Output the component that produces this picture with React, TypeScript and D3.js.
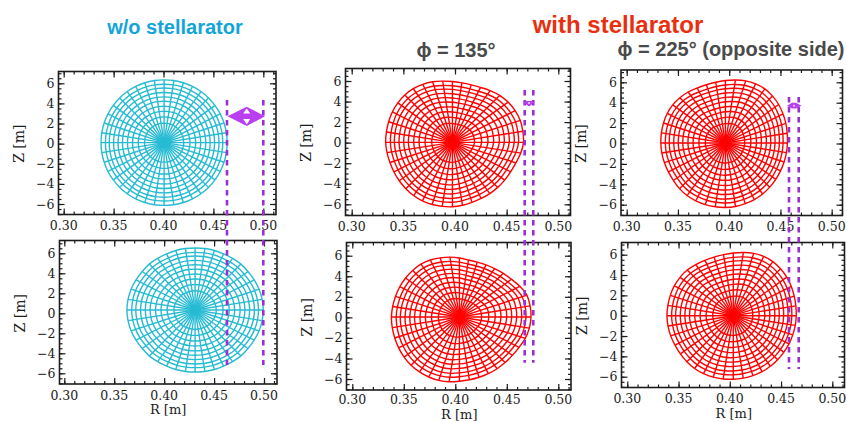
import React, { useEffect, useRef } from 'react';
import * as d3 from 'd3';

const xTicks = [0.3, 0.35, 0.4, 0.45, 0.5];
const xMinorTicks = d3.range(0.3, 0.5101, 0.01);
const yTicks = [-6, -4, -2, 0, 2, 4, 6];
const yMinorTicks = d3.range(-7, 7.01, 0.5);

// flux surfaces as a fraction of the boundary
const surfaces = [0.31, 0.41, 0.5, 0.58, 0.66, 0.73, 0.8, 0.87, 0.93, 1];

// boundary minor radius (Z metres) read every 9 degrees round the axis
const radiiA = [
  6.32, 6.32, 6.31, 6.31, 6.3, 6.29, 6.28, 6.27, 6.26, 6.25,
  6.24, 6.25, 6.26, 6.27, 6.28, 6.29, 6.3, 6.31, 6.31, 6.32,
  6.32, 6.32, 6.31, 6.31, 6.3, 6.29, 6.28, 6.27, 6.26, 6.25,
  6.24, 6.25, 6.26, 6.27, 6.28, 6.29, 6.3, 6.31, 6.31, 6.32,
];
const radiiB = [
  6.83, 6.8, 6.74, 6.64, 6.54, 6.49, 6.39, 6.3, 6.26, 6.22,
  6.2, 6.22, 6.26, 6.3, 6.39, 6.49, 6.54, 6.64, 6.74, 6.8,
  6.83, 6.8, 6.74, 6.64, 6.54, 6.49, 6.39, 6.3, 6.26, 6.22,
  6.2, 6.22, 6.26, 6.3, 6.39, 6.49, 6.54, 6.64, 6.74, 6.8,
];
const radiiC = [
  6.88, 6.9, 6.91, 6.81, 6.66, 6.46, 6.22, 6.0, 5.88, 5.86,
  5.92, 6.03, 6.2, 6.34, 6.45, 6.52, 6.53, 6.52, 6.49, 6.47,
  6.46, 6.41, 6.36, 6.35, 6.36, 6.38, 6.4, 6.4, 6.36, 6.31,
  6.27, 6.2, 6.14, 6.13, 6.16, 6.2, 6.25, 6.32, 6.46, 6.7,
];
const radiiD = [
  6.95, 6.95, 6.88, 6.58, 6.25, 6.02, 5.82, 5.7, 5.62, 5.62,
  5.75, 5.9, 6.05, 6.23, 6.36, 6.42, 6.46, 6.5, 6.52, 6.56,
  6.6, 6.6, 6.6, 6.62, 6.64, 6.64, 6.6, 6.55, 6.48, 6.38,
  6.25, 6.18, 6.16, 6.18, 6.22, 6.27, 6.35, 6.5, 6.72, 6.87,
];
const radiiE = [
  6.05, 6.1, 6.2, 6.3, 6.42, 6.5, 6.55, 6.5, 6.4, 6.25,
  6.12, 6.03, 6.0, 6.05, 6.18, 6.28, 6.35, 6.37, 6.35, 6.32,
  6.3, 6.28, 6.25, 6.24, 6.26, 6.33, 6.37, 6.36, 6.35, 6.33,
  6.32, 6.3, 6.25, 6.22, 6.18, 6.12, 6.07, 6.03, 6.02, 6.03,
];
const radiiF = [
  6.14, 6.18, 6.25, 6.35, 6.45, 6.52, 6.57, 6.55, 6.45, 6.3,
  6.17, 6.08, 6.05, 6.1, 6.22, 6.35, 6.42, 6.46, 6.46, 6.46,
  6.47, 6.45, 6.42, 6.38, 6.38, 6.4, 6.42, 6.4, 6.36, 6.3,
  6.25, 6.22, 6.2, 6.18, 6.15, 6.12, 6.1, 6.1, 6.1, 6.12,
];

const CYAN = '#27bbd3';
const RED = '#ff0000';
const PURPLE = '#9d2fd0';
const ARROW = '#b93ff0';
const INK = '#1c1c1c';

// frame is [left, right, top, bottom]; xPx places R=0.30/0.50, yPx places Z=-6/6
const panels = [
  { frame: [58.5, 276, 71.5, 214.5], xPx: [63.7, 263.3], yPx: [204, 83.3], axis: [0.4006, 0.1], radii: radiiA, color: CYAN, xTitle: false },
  { frame: [59.5, 277, 240.5, 384], xPx: [64.3, 264], yPx: [373.3, 253.3], axis: [0.431, 0.33], radii: radiiB, color: CYAN, xTitle: true },
  { frame: [345.5, 570.5, 68.5, 215.5], xPx: [351.7, 558.3], yPx: [204.3, 81], axis: [0.3975, 0.03], radii: radiiC, color: RED, xTitle: false },
  { frame: [346.5, 571, 242.5, 390], xPx: [352.3, 558.3], yPx: [379, 255.7], axis: [0.404, 0.03], radii: radiiD, color: RED, xTitle: true },
  { frame: [621, 842.5, 70, 215.5], xPx: [626.7, 831.7], yPx: [204.7, 82.3], axis: [0.3963, 0.05], radii: radiiE, color: RED, xTitle: false },
  { frame: [621.5, 844.5, 242.5, 387.5], xPx: [627.3, 832.3], yPx: [376.7, 254.7], axis: [0.4034, 0], radii: radiiF, color: RED, xTitle: true },
];

// dashed guide pairs, [px of first, px of second, top, bottom]
const guides = [
  [227, 263.3, 100, 365],
  [524.7, 533.3, 90, 362.7],
  [789, 798.7, 97, 369],
];

const titles = [
  { text: 'w/o stellarator', x: 175, y: 34, size: 20, color: '#12a5d9' },
  { text: 'with stellarator', x: 618, y: 33, size: 24, color: '#e8300f' },
  { text: 'ϕ = 135°', x: 456, y: 57, size: 20, color: '#4a4a4a' },
  { text: 'ϕ = 225° (opposite side)', x: 731, y: 56, size: 20, color: '#4a4a4a' },
];

export default function App() {
  const ref = useRef<SVGSVGElement>(null);

  useEffect(() => {
    const svg = d3.select(ref.current);
    svg.selectAll('*').remove();
    const font = '"DejaVu Serif", serif';

    panels.forEach((p) => {
      const [left, right, top, bottom] = p.frame;
      const x = d3.scaleLinear().domain([0.3, 0.5]).range(p.xPx);
      const y = d3.scaleLinear().domain([-6, 6]).range(p.yPx);
      const g = svg.append('g');

      const point = (r: number, i: number, rho: number): [number, number] => {
        const a = (i * 9 * Math.PI) / 180;
        return [x(p.axis[0] + rho * r * Math.cos(a) * 0.01), y(p.axis[1] + rho * r * Math.sin(a))];
      };

      const line = d3.line().curve(d3.curveCatmullRomClosed);
      g.selectAll('path.surface')
        .data(surfaces)
        .enter()
        .append('path')
        .attr('class', 'surface')
        .attr('d', (rho) => line(p.radii.map((r, i) => point(r, i, rho))))
        .attr('fill', 'none')
        .attr('stroke', p.color)
        .attr('stroke-width', 1.4);

      g.selectAll('line.spoke')
        .data(p.radii)
        .enter()
        .append('line')
        .attr('class', 'spoke')
        .attr('x1', x(p.axis[0]))
        .attr('y1', y(p.axis[1]))
        .attr('x2', (r, i) => point(r, i, 1)[0])
        .attr('y2', (r, i) => point(r, i, 1)[1])
        .attr('stroke', p.color)
        .attr('stroke-width', 1.4);

      // ticks on all four sides, pointing inward
      const xIn = x.copy().domain([x.invert(left), x.invert(right)]).range([left, right]);
      const yIn = y.copy().domain([y.invert(bottom), y.invert(top)]).range([bottom, top]);
      const sides: [any, number][] = [
        [d3.axisBottom(xIn).tickValues(xMinorTicks).tickSize(-3), bottom],
        [d3.axisBottom(xIn).tickValues(xTicks).tickSize(-6), bottom],
        [d3.axisTop(xIn).tickValues(xMinorTicks).tickSize(-3), top],
        [d3.axisTop(xIn).tickValues(xTicks).tickSize(-6), top],
      ];
      sides.forEach(([axis, pos]) => {
        g.append('g')
          .attr('transform', `translate(0,${pos})`)
          .call(axis.tickFormat(() => '').tickSizeOuter(0));
      });
      const ySides: [any, number][] = [
        [d3.axisLeft(yIn).tickValues(yMinorTicks).tickSize(-3), left],
        [d3.axisLeft(yIn).tickValues(yTicks).tickSize(-6), left],
        [d3.axisRight(yIn).tickValues(yMinorTicks).tickSize(-3), right],
        [d3.axisRight(yIn).tickValues(yTicks).tickSize(-6), right],
      ];
      ySides.forEach(([axis, pos]) => {
        g.append('g')
          .attr('transform', `translate(${pos},0)`)
          .call(axis.tickFormat(() => '').tickSizeOuter(0));
      });
      g.selectAll('.domain').remove();
      g.selectAll('.tick line').attr('stroke', INK).attr('stroke-width', 1.2);

      g.append('rect')
        .attr('x', left)
        .attr('y', top)
        .attr('width', right - left)
        .attr('height', bottom - top)
        .attr('fill', 'none')
        .attr('stroke', INK)
        .attr('stroke-width', 1.6);

      g.selectAll('text.xt')
        .data(xTicks)
        .enter()
        .append('text')
        .attr('class', 'xt')
        .attr('x', (d) => x(d))
        .attr('y', Math.min(bottom + 15.5, 404))
        .attr('text-anchor', 'middle')
        .style('font-family', font)
        .style('font-size', '12.5px')
        .attr('fill', INK)
        .text(d3.format('.2f'));

      g.selectAll('text.yt')
        .data(yTicks)
        .enter()
        .append('text')
        .attr('class', 'yt')
        .attr('x', left - 4)
        .attr('y', (d) => y(d) + 4.5)
        .attr('text-anchor', 'end')
        .style('font-family', font)
        .style('font-size', '12.5px')
        .attr('fill', INK)
        .text((d) => (d < 0 ? `\u2212${-d}` : `${d}`));

      g.append('text')
        .attr('transform', `translate(${left - 35},${y(0)}) rotate(-90)`)
        .attr('text-anchor', 'middle')
        .style('font-family', font)
        .style('font-size', '14px')
        .attr('fill', INK)
        .text('Z [m]');

      if (p.xTitle) {
        g.append('text')
          .attr('x', x(0.4) + 4)
          .attr('y', Math.min(bottom + 30, 418.7))
          .attr('text-anchor', 'middle')
          .style('font-family', font)
          .style('font-size', '13px')
          .attr('fill', INK)
          .text('R [m]');
      }
    });

    guides.forEach(([a, b, top, bottom]) => {
      [a, b].forEach((px) => {
        svg.append('line')
          .attr('x1', px)
          .attr('x2', px)
          .attr('y1', top)
          .attr('y2', bottom)
          .attr('stroke', PURPLE)
          .attr('stroke-width', 2.6)
          .attr('stroke-dasharray', '5.5 4.5');
      });
    });

    // fat arrow on the left, thin ones over the red panels
    svg.append('polygon')
      .attr('points', '227.5,116.3 246.7,106.7 265,116.3 246.7,126')
      .attr('fill', ARROW);
    svg.append('polygon')
      .attr('points', '246.7,108.5 243.2,113.5 250.2,113.5')
      .attr('fill', '#fff');
    svg.append('polygon')
      .attr('points', '246.7,124.5 243.2,119 250.2,119')
      .attr('fill', '#fff');
    svg.append('polygon')
      .attr('points', '523.5,102.5 526,101 532,101 534.5,102.5 529,106.5')
      .attr('fill', ARROW);
    svg.append('circle').attr('cx', 529).attr('cy', 103).attr('r', 0.9).attr('fill', '#f3e0ff');
    svg.append('polygon')
      .attr('points', '787,105.7 792,102.8 796,102.8 801.5,105.7 796,108.6 792,108.6')
      .attr('fill', ARROW);
    svg.append('circle').attr('cx', 794).attr('cy', 105.7).attr('r', 1).attr('fill', '#f3e0ff');

    svg.selectAll('text.title')
      .data(titles)
      .enter()
      .append('text')
      .attr('class', 'title')
      .attr('x', (d) => d.x)
      .attr('y', (d) => d.y)
      .attr('text-anchor', 'middle')
      .style('font-family', '"Liberation Sans", Arial, sans-serif')
      .style('font-weight', 'bold')
      .style('font-size', (d) => `${d.size}px`)
      .attr('fill', (d) => d.color)
      .text((d) => d.text);
  }, []);

  return (
    <svg
      ref={ref}
      width={847}
      height={422}
      style={{ position: 'absolute', left: 0, top: 0, background: '#fff' }}
    />
  );
}
